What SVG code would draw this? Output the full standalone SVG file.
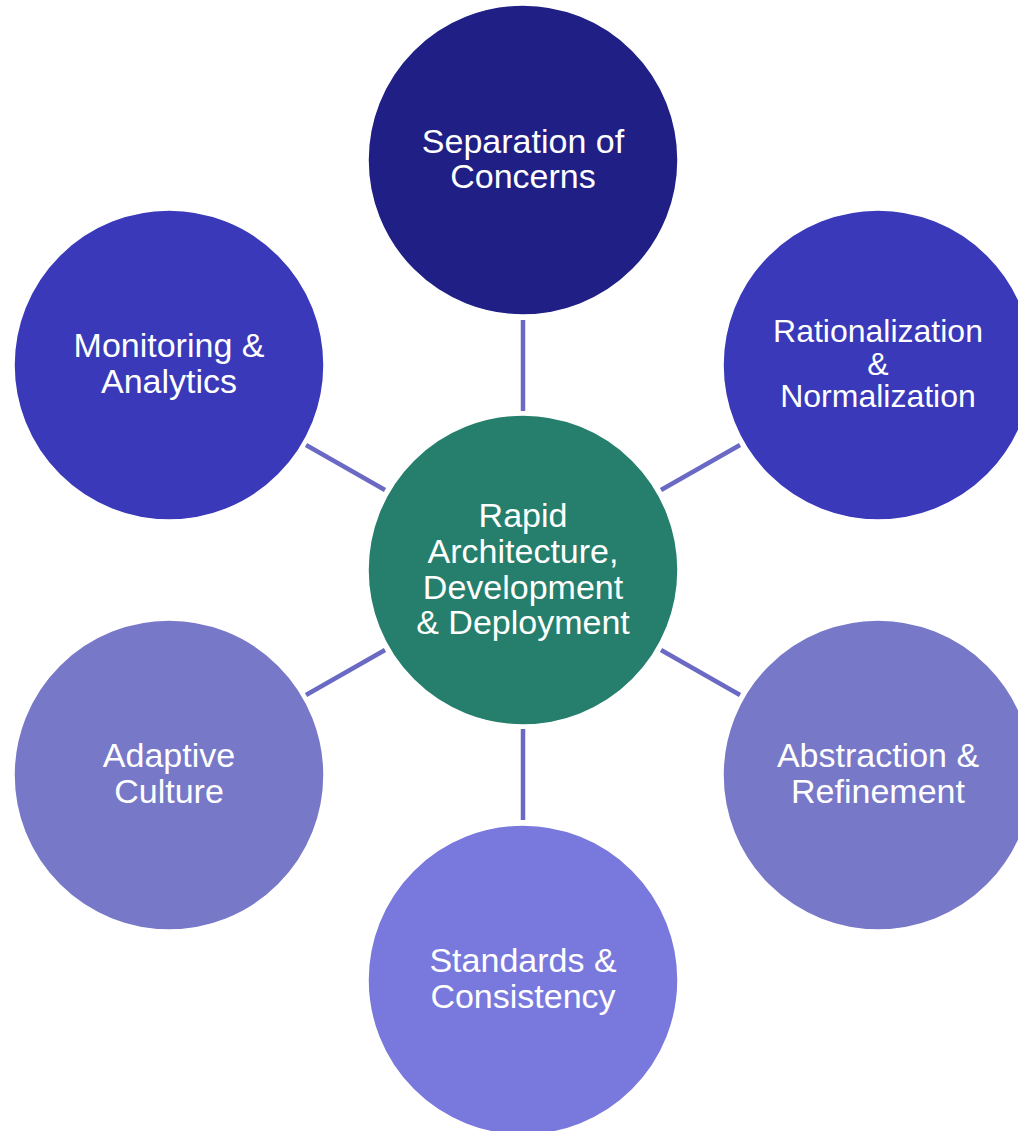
<svg xmlns="http://www.w3.org/2000/svg" width="1018" height="1131" viewBox="0 0 1018 1131">
<style>
.n circle{stroke:#ffffff;stroke-width:1.5}
.t{font-family:"Liberation Sans",Arial,sans-serif;font-size:34px;fill:#ffffff;text-anchor:middle}
.s{font-size:32px}
#connectors line{stroke:#6a6ac4;stroke-width:4.5}
</style>
<rect width="1018" height="1131" fill="#ffffff"/>
<g id="connectors">
<line x1="523" y1="320" x2="523" y2="411"/>
<line x1="523" y1="729" x2="523" y2="820"/>
<line x1="661" y1="490" x2="740" y2="445"/>
<line x1="385" y1="490" x2="306" y2="445"/>
<line x1="661" y1="650" x2="740" y2="695"/>
<line x1="385" y1="650" x2="306" y2="695"/>
</g>
<g id="node-top" class="n">
<circle cx="523" cy="160" r="155" fill="#1f1f86"/>
<text class="t" x="523" y="153">Separation of</text>
<text class="t" x="523" y="188">Concerns</text>
</g>
<g id="node-upper-right" class="n">
<circle cx="878" cy="365" r="155" fill="#3939ba"/>
<text class="t s" x="878" y="342">Rationalization</text>
<text class="t s" x="878" y="375">&amp;</text>
<text class="t s" x="878" y="407">Normalization</text>
</g>
<g id="node-lower-right" class="n">
<circle cx="878" cy="775" r="155" fill="#7878c9"/>
<text class="t" x="878" y="767">Abstraction &amp;</text>
<text class="t" x="878" y="803">Refinement</text>
</g>
<g id="node-bottom" class="n">
<circle cx="523" cy="980" r="155" fill="#7979dd"/>
<text class="t" x="523" y="972">Standards &amp;</text>
<text class="t" x="523" y="1008">Consistency</text>
</g>
<g id="node-lower-left" class="n">
<circle cx="169" cy="775" r="155" fill="#7878c9"/>
<text class="t" x="169" y="767">Adaptive</text>
<text class="t" x="169" y="803">Culture</text>
</g>
<g id="node-upper-left" class="n">
<circle cx="169" cy="365" r="155" fill="#3939ba"/>
<text class="t" x="169" y="357">Monitoring &amp;</text>
<text class="t" x="169" y="393">Analytics</text>
</g>
<g id="node-center" class="n">
<circle cx="523" cy="570" r="155" fill="#257f6c"/>
<text class="t" x="523" y="527">Rapid</text>
<text class="t" x="523" y="563">Architecture,</text>
<text class="t" x="523" y="599">Development</text>
<text class="t" x="523" y="634">&amp; Deployment</text>
</g>
</svg>
